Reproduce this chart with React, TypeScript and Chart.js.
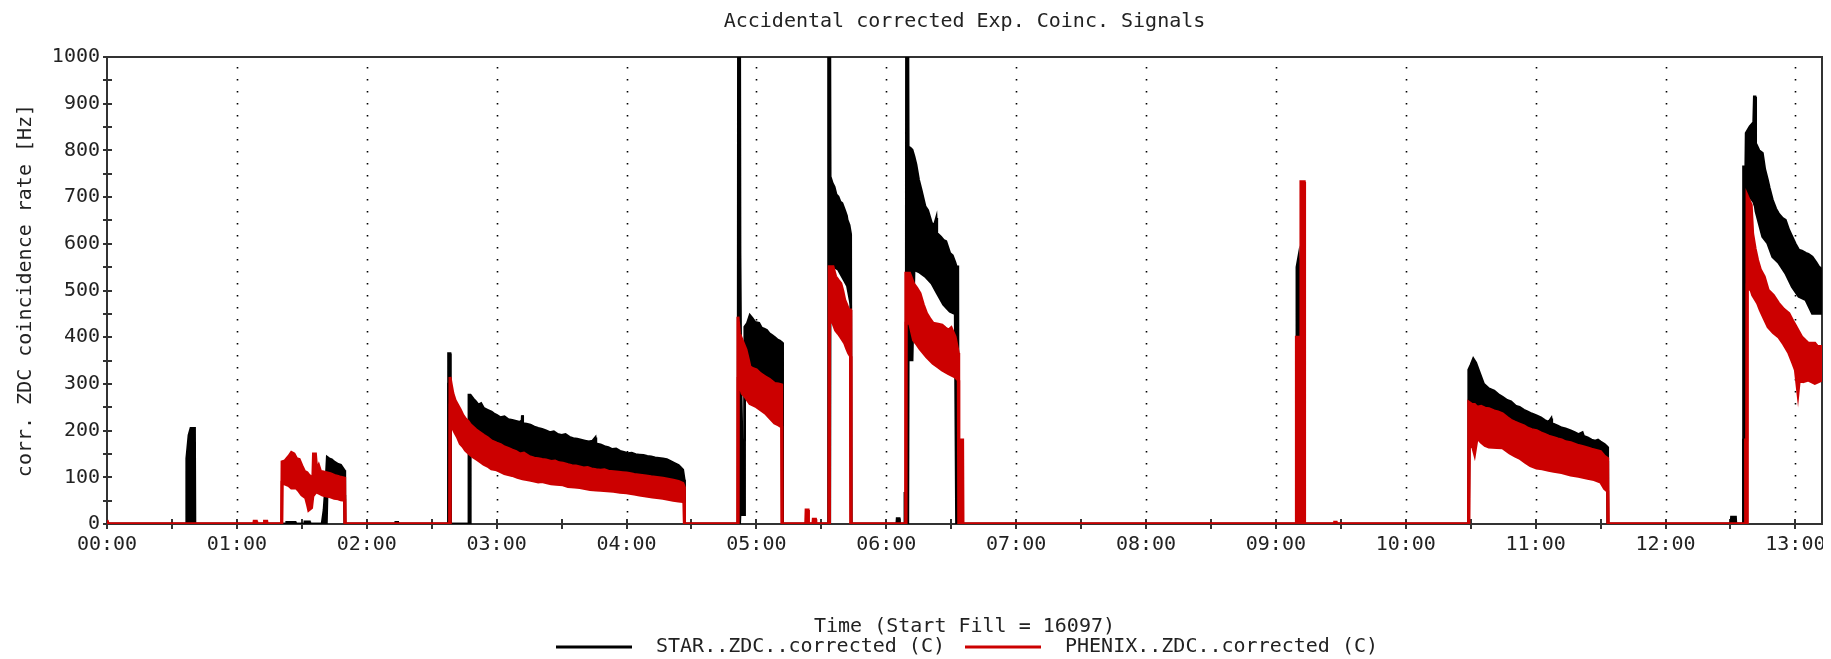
import React, { useEffect, useRef } from 'react';
import { Chart, registerables } from 'chart.js';

Chart.register(...registerables);

// ---------- labels ----------
const chartTitle = 'Accidental corrected Exp. Coinc. Signals';
const xAxisTitle = 'Time (Start Fill = 16097)';
const yAxisTitle = 'corr. ZDC coincidence rate [Hz]';
const starLabel = 'STAR..ZDC..corrected (C)';
const phenixLabel = 'PHENIX..ZDC..corrected (C)';
const xTickLabels = ['00:00', '01:00', '02:00', '03:00', '04:00', '05:00', '06:00', '07:00', '08:00', '09:00', '10:00', '11:00', '12:00', '13:00'];
const yTickLabels = ['0', '100', '200', '300', '400', '500', '600', '700', '800', '900', '1000'];

// ---------- STAR (black) upper envelope: time [h] / rate [Hz] ----------
const starHighTime = [
  0, 0.61, 0.613, 0.63, 0.645, 0.675, 0.678,
  1.38, 1.383, 1.45, 1.453, 1.52, 1.523, 1.56, 1.563,
  1.655, 1.67, 1.685, 1.695, 1.71, 1.73, 1.75, 1.78, 1.8, 1.828, 1.832,
  2.22, 2.223, 2.24, 2.243,
  2.626, 2.629, 2.642, 2.645, 2.783, 2.786,
  2.798, 2.82, 2.84, 2.86, 2.88, 2.9, 2.93, 2.96, 2.98, 3.0, 3.03, 3.06, 3.09, 3.12, 3.15, 3.18, 3.195, 3.197, 3.2, 3.203,
  3.23, 3.26, 3.29, 3.32, 3.35, 3.38, 3.41, 3.44, 3.47, 3.5, 3.53, 3.56, 3.59, 3.62, 3.65, 3.68, 3.71, 3.74, 3.76, 3.765,
  3.8, 3.83, 3.86, 3.89, 3.92, 3.95, 3.98, 4.01, 4.04, 4.07, 4.1, 4.13, 4.16, 4.19, 4.22, 4.25, 4.28, 4.31, 4.34, 4.37, 4.4, 4.42, 4.434, 4.445, 4.448,
  4.858, 4.861, 4.872, 4.875, 4.882, 4.89, 4.905, 4.91, 4.93, 4.95, 4.97, 4.99, 5.02, 5.04, 5.06, 5.08, 5.1, 5.12, 5.14, 5.16, 5.18, 5.2, 5.203,
  5.552, 5.555, 5.566, 5.569, 5.585, 5.6, 5.615, 5.63, 5.645, 5.66, 5.68, 5.695, 5.7, 5.715, 5.727, 5.73,
  6.08, 6.083, 6.1, 6.103, 6.14, 6.143, 6.152, 6.155, 6.167, 6.17, 6.185, 6.2, 6.215, 6.23, 6.25, 6.27, 6.3, 6.32, 6.35, 6.37, 6.385, 6.39, 6.42, 6.44, 6.46, 6.49, 6.51, 6.53, 6.54, 6.552, 6.555,
  9.158, 9.161, 9.175, 9.188, 9.19,
  10.481, 10.484, 10.5, 10.52, 10.54, 10.56, 10.6, 10.64, 10.68, 10.72, 10.745, 10.78, 10.81, 10.85, 10.876, 10.91, 10.94, 10.97, 11.007, 11.04, 11.07, 11.1, 11.12, 11.125, 11.14, 11.17, 11.2, 11.23, 11.27, 11.3, 11.33, 11.36, 11.37, 11.4, 11.43, 11.46, 11.48, 11.5, 11.53, 11.553, 11.556,
  12.504, 12.507, 12.54, 12.543,
  12.597, 12.6, 12.617, 12.62, 12.65, 12.678, 12.683, 12.69, 12.695, 12.72, 12.747, 12.765, 12.786, 12.8, 12.824, 12.85, 12.87, 12.9, 12.924, 12.95, 12.975, 13.0, 13.026, 13.05, 13.08, 13.1, 13.13, 13.16, 13.18, 13.205,
];
const starHigh = [
  0, 0, 140, 190, 205, 205, 0,
  0, 4, 4, 0, 0, 5, 5, 0,
  0, 30, 90, 143, 140, 138, 133, 128, 126, 115, 0,
  0, 4, 4, 0,
  0, 365, 365, 0, 0, 276,
  276, 268, 262, 255, 258, 248, 244, 240, 236, 233, 228, 230, 224, 222, 220, 218, 222, 233, 233, 215,
  214, 212, 208, 205, 203, 200, 196, 198, 192, 190, 192, 186, 183, 182, 180, 178, 176, 178, 185, 172,
  170, 166, 164, 160, 161, 156, 154, 151, 152, 149, 148, 147, 145, 144, 142, 141, 140, 138, 134, 130, 126, 120, 116, 95, 0,
  0, 1100, 1100, 580, 300, 180, 180, 422, 430, 447, 440, 432, 430, 420, 418, 415, 408, 404, 400, 395, 392, 388, 0,
  0, 1100, 1100, 744, 730, 722, 705, 701, 690, 687, 672, 660, 651, 640, 620, 0,
  0, 12, 12, 0, 0, 66, 66, 1100, 1100, 808, 805, 801, 787, 770, 737, 715, 680, 672, 644, 640, 655, 623, 615, 608, 605, 580, 575, 560, 551, 551, 0,
  0, 550, 572, 480, 0,
  0, 330, 340, 354, 345, 330, 300, 290, 285, 276, 272, 265, 262, 252, 250, 244, 240, 236, 232, 228, 222, 218, 226, 215, 214, 210, 206, 204, 200, 196, 192, 196, 188, 185, 180, 178, 180, 176, 171, 165, 0,
  0, 15, 15, 0,
  0, 765, 765, 837, 851, 860, 915, 915, 815, 800, 794, 760, 737, 720, 694, 675, 665, 655, 651, 630, 615, 600, 587, 585, 580, 578, 572, 560, 551, 545,
];

// ---------- STAR (black) lower envelope ----------
const starLowTime = [
  0,
  1.69, 1.695, 1.73, 1.78, 1.828, 1.832,
  2.626, 2.629, 2.642, 2.645,
  2.795, 2.798, 2.82, 2.9, 3.0, 3.1, 3.25, 3.4, 3.51, 3.65, 3.77, 3.9, 4.02, 4.15, 4.28, 4.38, 4.434, 4.445, 4.448,
  4.872, 4.875, 4.905, 4.91, 4.96, 5.02, 5.08, 5.14, 5.19, 5.2, 5.203,
  5.566, 5.569, 5.6, 5.63, 5.65, 5.68, 5.7, 5.72, 5.727, 5.73,
  6.167, 6.17, 6.2, 6.215, 6.25, 6.3, 6.35, 6.39, 6.44, 6.49, 6.53, 6.54,
  9.158, 9.161, 9.188, 9.19,
  10.484, 10.49, 10.52, 10.55, 10.64, 10.745, 10.876, 11.007, 11.14, 11.27, 11.4, 11.53, 11.553, 11.556,
  12.597, 12.6, 12.617, 12.62, 12.65, 12.678, 12.69, 12.695, 12.747, 12.786, 12.824, 12.87, 12.924, 12.975, 13.026, 13.08, 13.13, 13.205,
];
const starLow = [
  0,
  0, 60, 70, 68, 62, 0,
  0, 300, 300, 0,
  0, 175, 165, 150, 140, 130, 120, 112, 105, 98, 92, 88, 84, 80, 76, 72, 68, 55, 0,
  0, 20, 20, 300, 290, 280, 270, 255, 245, 240, 0,
  0, 560, 550, 545, 535, 520, 510, 480, 470, 0,
  0, 351, 351, 544, 540, 530, 515, 495, 470, 455, 450, 0,
  0, 400, 400, 0,
  0, 245, 250, 245, 237, 226, 204, 190, 175, 164, 153, 140, 135, 0,
  0, 180, 180, 700, 700, 690, 680, 670, 615, 601, 572, 560, 537, 508, 487, 480, 451, 451,
];

// ---------- PHENIX (red) upper envelope ----------
const phenixHighTime = [
  0, 0.006, 0.009,
  1.13, 1.133, 1.15, 1.153, 1.21, 1.213, 1.23, 1.233,
  1.345, 1.348, 1.37, 1.39, 1.4, 1.42, 1.44, 1.46, 1.48, 1.5, 1.52, 1.54, 1.553, 1.575, 1.585, 1.59, 1.605, 1.615, 1.63, 1.645, 1.66, 1.69, 1.72, 1.75, 1.78, 1.8, 1.83, 1.833,
  2.638, 2.641, 2.65, 2.663, 2.68, 2.7, 2.72, 2.74, 2.76, 2.78, 2.8, 2.817, 2.84, 2.87, 2.9, 2.93, 2.96, 3.0, 3.03, 3.06, 3.09, 3.12, 3.15, 3.18, 3.21, 3.253,
  3.29, 3.32, 3.35, 3.38, 3.42, 3.45, 3.48, 3.51, 3.55, 3.58, 3.61, 3.64, 3.67, 3.7, 3.73, 3.767, 3.8, 3.83, 3.86, 3.9, 3.94, 3.97, 4.0, 4.023,
  4.06, 4.09, 4.12, 4.15, 4.19, 4.22, 4.25, 4.28, 4.32, 4.36, 4.4, 4.434, 4.443, 4.446,
  4.855, 4.858, 4.87, 4.89, 4.92, 4.94, 4.95, 4.97, 5.0, 5.03, 5.07, 5.1, 5.14, 5.17, 5.195, 5.198,
  5.38, 5.383, 5.398, 5.401, 5.435, 5.438, 5.455, 5.458,
  5.558, 5.561, 5.59, 5.61, 5.63, 5.65, 5.665, 5.68, 5.695, 5.71, 5.725, 5.728,
  6.148, 6.151, 6.18, 6.21, 6.235, 6.26, 6.285, 6.31, 6.335, 6.36, 6.4, 6.43, 6.455, 6.48, 6.5, 6.53, 6.555, 6.558, 6.588, 6.591,
  9.155, 9.158, 9.19, 9.193, 9.218, 9.221,
  9.45, 9.453, 9.465, 9.468,
  10.482, 10.485, 10.51, 10.53, 10.55, 10.58, 10.61, 10.64, 10.68, 10.71, 10.745, 10.78, 10.81, 10.84, 10.876, 10.91, 10.94, 10.97, 11.007, 11.04, 11.07, 11.1, 11.14, 11.17, 11.2, 11.23, 11.27, 11.3, 11.33, 11.36, 11.4, 11.43, 11.46, 11.5, 11.53, 11.555, 11.558,
  12.615, 12.617, 12.625, 12.628, 12.66, 12.671, 12.69, 12.709, 12.73, 12.76, 12.79, 12.83, 12.87, 12.91, 12.95, 12.98, 13.0, 13.02, 13.05, 13.08, 13.1, 13.15, 13.17, 13.205,
];
const phenixHigh = [
  8, 8, 0,
  0, 6, 6, 0, 0, 6, 6, 0,
  0, 133, 135, 142, 145, 153, 150, 140, 138, 125, 113, 110, 105, 100, 100, 150, 150, 115, 125, 112, 112, 110, 108, 104, 102, 100, 98, 0,
  0, 315, 300, 280, 265, 255, 245, 233, 225, 220, 212, 208, 202, 196, 190, 185, 178, 173, 170, 165, 162, 158, 155, 150, 152, 144,
  141, 140, 138, 137, 134, 135, 131, 130, 127, 125, 124, 122, 120, 121, 118, 116, 115, 116, 113, 112, 111, 110, 109, 108,
  106, 105, 104, 103, 101, 100, 99, 98, 96, 94, 91, 87, 80, 0,
  0, 444, 408, 394, 373, 350, 337, 333, 330, 322, 315, 310, 301, 300, 298, 0,
  0, 30, 30, 0, 0, 10, 10, 0,
  0, 551, 551, 530, 522, 515, 500, 480, 470, 458, 458, 0,
  0, 537, 537, 515, 505, 494, 470, 451, 440, 430, 428, 426, 420, 415, 420, 401, 366, 180, 180, 0,
  0, 400, 400, 733, 733, 0,
  0, 4, 4, 0,
  0, 261, 256, 256, 250, 252, 248, 247, 242, 240, 236, 228, 222, 218, 214, 210, 205, 202, 200, 195, 192, 188, 185, 182, 180, 176, 174, 171, 168, 166, 163, 160, 158, 155, 145, 140, 0,
  0, 180, 180, 704, 683, 622, 590, 565, 545, 530, 501, 490, 473, 460, 451, 435, 425, 415, 400, 392, 387, 387, 380, 380,
];

// ---------- PHENIX (red) lower envelope ----------
const phenixLowTime = [
  0,
  1.345, 1.348, 1.4, 1.42, 1.457, 1.48, 1.5, 1.53, 1.545, 1.553, 1.575, 1.585, 1.61, 1.64, 1.66, 1.69, 1.72, 1.75, 1.78, 1.8, 1.83, 1.833,
  2.641, 2.643, 2.663, 2.68, 2.7, 2.72, 2.74, 2.76, 2.79, 2.817, 2.85, 2.88, 2.9, 2.93, 2.96, 3.0, 3.03, 3.06, 3.09, 3.12, 3.16, 3.2, 3.253,
  3.29, 3.32, 3.35, 3.38, 3.42, 3.46, 3.51, 3.55, 3.6, 3.64, 3.68, 3.72, 3.767, 3.8, 3.85, 3.9, 3.95, 4.0, 4.023, 4.06, 4.1, 4.15, 4.2, 4.25, 4.28, 4.32, 4.36, 4.4, 4.434, 4.443, 4.446,
  4.858, 4.86, 4.87, 4.89, 4.92, 4.95, 5.0, 5.03, 5.07, 5.1, 5.14, 5.17, 5.195, 5.198,
  5.561, 5.563, 5.59, 5.61, 5.63, 5.65, 5.68, 5.695, 5.71, 5.725, 5.728,
  6.151, 6.153, 6.18, 6.21, 6.235, 6.26, 6.31, 6.36, 6.4, 6.43, 6.48, 6.53, 6.555, 6.558,
  10.485, 10.49, 10.51, 10.53, 10.55, 10.58, 10.61, 10.64, 10.7, 10.745, 10.8, 10.84, 10.876, 10.92, 10.96, 11.007, 11.05, 11.1, 11.14, 11.2, 11.27, 11.33, 11.4, 11.45, 11.5, 11.53, 11.555, 11.558,
  12.628, 12.63, 12.66, 12.671, 12.709, 12.73, 12.76, 12.79, 12.83, 12.87, 12.91, 12.95, 12.98, 13.0, 13.02, 13.03, 13.06, 13.1, 13.15, 13.205,
];
const phenixLow = [
  0,
  0, 88, 82, 77, 77, 70, 62, 56, 40, 30, 35, 60, 69, 65, 62, 60, 58, 55, 54, 52, 51, 0,
  0, 230, 205, 195, 185, 172, 166, 158, 150, 144, 138, 132, 128, 124, 118, 116, 112, 108, 106, 104, 100, 97, 94,
  92, 90, 91, 89, 86, 85, 84, 80, 79, 78, 76, 74, 73, 72, 71, 70, 68, 67, 66, 64, 62, 60, 58, 56, 55, 53, 51, 49, 48, 45, 0,
  0, 315, 300, 280, 270, 258, 251, 245, 237, 228, 216, 212, 208, 0,
  0, 437, 430, 415, 408, 400, 387, 376, 366, 359, 0,
  0, 430, 430, 394, 385, 375, 358, 344, 336, 330, 322, 315, 308, 0,
  0, 163, 171, 150, 185, 175, 168, 165, 164, 163, 152, 146, 141, 132, 125, 120, 118, 115, 113, 110, 105, 102, 98, 95, 90, 76, 70, 0,
  0, 508, 500, 490, 473, 458, 440, 422, 410, 401, 385, 366, 345, 330, 280, 308, 305, 308, 301, 308,
];

const BLACK = '#000000';
const RED = '#cc0000';
const TEXT = '#222222';
const FONT_FAMILY = '"DejaVu Sans Mono", monospace';
const FONT_SIZE = 20;

const zip = (t: number[], v: number[]) => t.map((x, i) => ({ x, y: v[i] }));

export default function App() {
  const canvasRef = useRef<HTMLCanvasElement>(null);

  useEffect(() => {
    document.documentElement.style.overflow = 'hidden';
    document.body.style.overflow = 'hidden';
    const canvas = canvasRef.current;
    if (!canvas) return;

    const decorPlugin = {
      id: 'decor',
      beforeDatasetsDraw(chart: any) {
        const { ctx, chartArea: a, scales } = chart;
        const xs = scales.x;
        const ys = scales.y;
        ctx.save();
        // dotted vertical grid at each hour
        ctx.strokeStyle = '#000';
        ctx.lineWidth = 1.6;
        ctx.setLineDash([1.6, 10.4]);
        for (let h = 1; h < xTickLabels.length; h++) {
          const x = Math.round(xs.getPixelForValue(h)) + 0.5;
          ctx.beginPath();
          ctx.moveTo(x, a.top + 10);
          ctx.lineTo(x, a.bottom - 2);
          ctx.stroke();
        }
        ctx.setLineDash([]);
        // frame
        ctx.strokeStyle = '#333';
        ctx.lineWidth = 2;
        ctx.strokeRect(a.left, a.top, a.right - a.left, a.bottom - a.top);
        // y ticks every 50 Hz
        for (let v = 0; v <= 1000; v += 50) {
          const y = Math.round(ys.getPixelForValue(v));
          ctx.beginPath();
          ctx.moveTo(a.left - 4, y);
          ctx.lineTo(a.left + 5, y);
          ctx.stroke();
        }
        // x ticks every 30 min
        for (let h = 0; h <= 13; h += 0.5) {
          const x = Math.round(xs.getPixelForValue(h));
          ctx.beginPath();
          ctx.moveTo(x, a.bottom - 5);
          ctx.lineTo(x, a.bottom + 5);
          ctx.stroke();
        }
        ctx.restore();
      },
      afterDraw(chart: any) {
        const { ctx, chartArea: a } = chart;
        ctx.save();
        ctx.font = `${FONT_SIZE}px ${FONT_FAMILY}`;
        ctx.fillStyle = TEXT;
        ctx.textBaseline = 'middle';
        // title centred over the plot area
        ctx.textAlign = 'center';
        ctx.fillText(chartTitle, (a.left + a.right) / 2, 14);
        // legend
        const ly = 639;
        const items = [
          { x: 548, color: BLACK, label: starLabel },
          { x: 957, color: RED, label: phenixLabel },
        ];
        ctx.textAlign = 'left';
        for (const it of items) {
          ctx.strokeStyle = it.color;
          ctx.lineWidth = 3;
          ctx.beginPath();
          ctx.moveTo(it.x, ly);
          ctx.lineTo(it.x + 76, ly);
          ctx.stroke();
          ctx.fillStyle = TEXT;
          ctx.fillText(it.label, it.x + 100, ly);
        }
        ctx.restore();
      },
    };

    const chart = new Chart(canvas, {
      type: 'line',
      data: {
        datasets: [
          { label: phenixLabel, data: zip(phenixHighTime, phenixHigh), borderColor: RED, backgroundColor: RED, borderWidth: 3, fill: '+1', pointRadius: 0 },
          { label: 'phenix-low', data: zip(phenixLowTime, phenixLow), borderColor: RED, backgroundColor: RED, borderWidth: 3, fill: false, pointRadius: 0 },
          { label: starLabel, data: zip(starHighTime, starHigh), borderColor: BLACK, backgroundColor: BLACK, borderWidth: 2.5, fill: '+1', pointRadius: 0 },
          { label: 'star-low', data: zip(starLowTime, starLow), borderColor: BLACK, backgroundColor: BLACK, borderWidth: 2.5, fill: false, pointRadius: 0 },
        ],
      },
      options: {
        responsive: false,
        animation: false,
        devicePixelRatio: 1,
        layout: { padding: { top: 49, right: 1, left: 0, bottom: 0 } },
        elements: { line: { tension: 0 }, point: { radius: 0 } },
        plugins: {
          legend: { display: false },
          title: { display: false },
          tooltip: { enabled: false },
        },
        scales: {
          x: {
            type: 'linear',
            min: 0,
            max: 13.205,
            grid: { display: false, drawTicks: false },
            border: { display: false },
            ticks: {
              stepSize: 1,
              includeBounds: false,
              autoSkip: false,
              maxRotation: 0,
              padding: 9,
              color: TEXT,
              font: { family: FONT_FAMILY, size: FONT_SIZE },
              callback: (v: any) => xTickLabels[Math.round(Number(v))] ?? '',
            },
            title: {
              display: true,
              text: xAxisTitle,
              color: TEXT,
              font: { family: FONT_FAMILY, size: FONT_SIZE },
              padding: { top: 20, bottom: 20 },
            },
            afterFit: (s: any) => {
              s.height = 135;
              s.paddingLeft = 0;
              s.paddingRight = 0;
            },
          },
          y: {
            type: 'linear',
            min: 0,
            max: 1000,
            grid: { display: false, drawTicks: false },
            border: { display: false },
            ticks: {
              stepSize: 100,
              padding: 7,
              color: TEXT,
              font: { family: FONT_FAMILY, size: FONT_SIZE },
              callback: (v: any) => yTickLabels[Math.round(Number(v) / 100)] ?? '',
            },
            title: {
              display: true,
              text: yAxisTitle,
              color: TEXT,
              font: { family: FONT_FAMILY, size: FONT_SIZE },
              padding: { top: 6, bottom: 6 },
            },
            afterFit: (s: any) => {
              s.width = 99;
              s.paddingTop = 0;
              s.paddingBottom = 0;
            },
          },
        },
      } as any,
      plugins: [decorPlugin],
    });

    return () => chart.destroy();
  }, []);

  return (
    <canvas
      ref={canvasRef}
      width={1815}
      height={651}
      style={{ display: 'block', width: '1815px', height: '651px' }}
    />
  );
}
